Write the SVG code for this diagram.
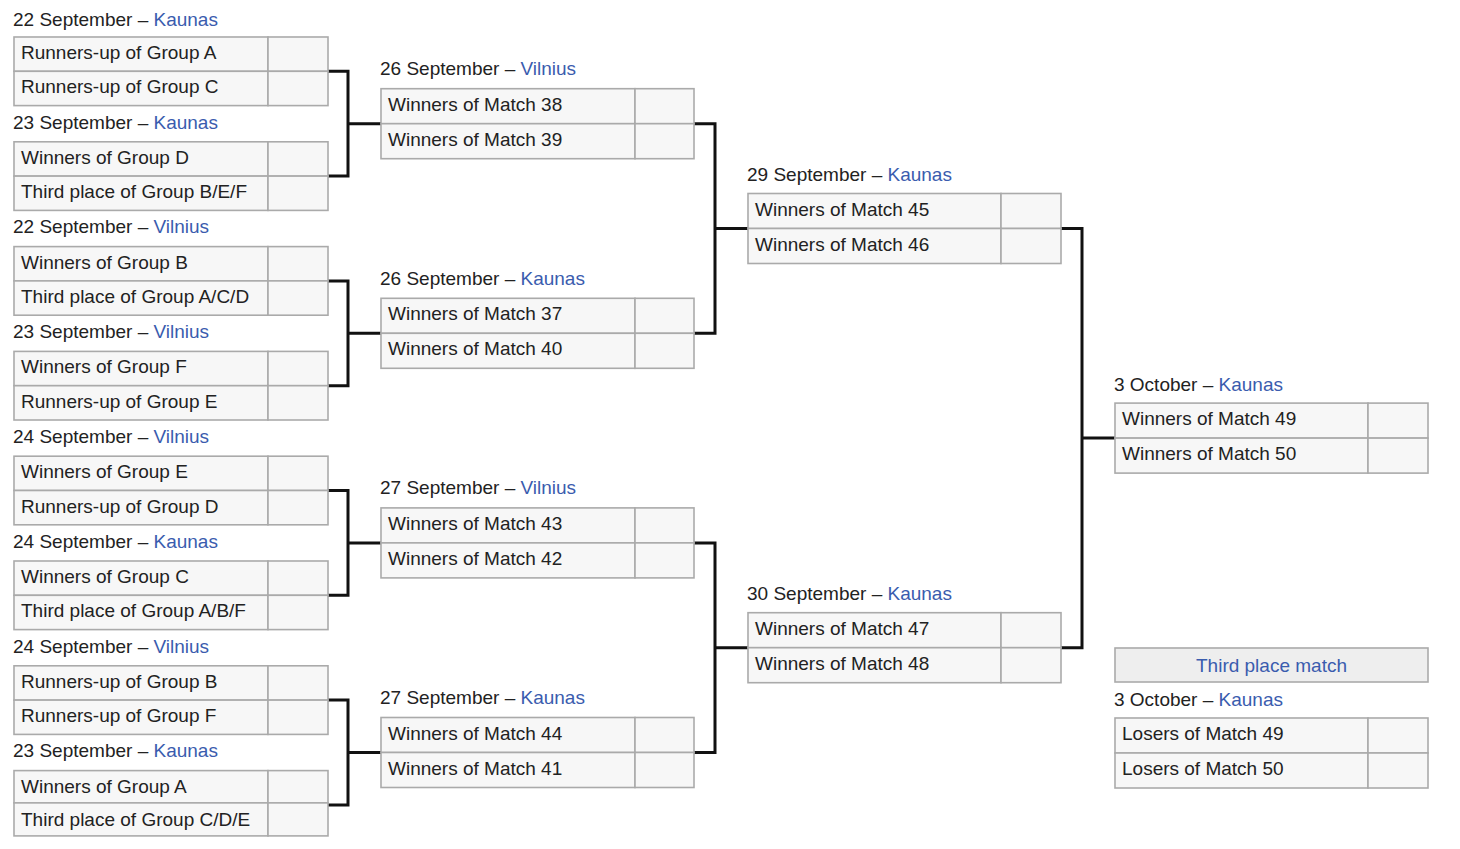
<svg xmlns="http://www.w3.org/2000/svg" width="1460" height="849" viewBox="0 0 1460 849">
<style>
.c{fill:#f7f7f7;stroke:#aaaaaa;stroke-width:1.6}
.h{fill:#eeeeee;stroke:#aaaaaa;stroke-width:1.6}
.t{font-family:"Liberation Sans",Arial,sans-serif;font-size:19px;fill:#222222}
.l{fill:#3a5cae}
.con{fill:none;stroke:#111111;stroke-width:3}
</style>
<rect width="1460" height="849" fill="#ffffff"/>
<g id="connectors">
<path class="con" d="M328 71.3H348V176.1H328M348 123.7H381"/>
<path class="con" d="M328 280.9H348V385.7H328M348 333.3H381"/>
<path class="con" d="M328 490.5H348V595.3H328M348 542.9H381"/>
<path class="con" d="M328 700.1H348V804.9H328M348 752.5H381"/>
<path class="con" d="M694 123.7H715V333.3H694M715 228.5H748"/>
<path class="con" d="M694 542.9H715V752.5H694M715 647.7H748"/>
<path class="con" d="M1061 228.5H1082V647.7H1061M1082 438.1H1115"/>
</g>
<g id="m1">
<text class="t" x="13" y="26">22 September – <tspan class="l">Kaunas</tspan></text>
<rect class="c" x="14" y="37" width="254" height="34.3"/><rect class="c" x="268" y="37" width="60" height="34.3"/>
<rect class="c" x="14" y="71.3" width="254" height="34.3"/><rect class="c" x="268" y="71.3" width="60" height="34.3"/>
<text class="t" x="21" y="59">Runners-up of Group A</text>
<text class="t" x="21" y="93.3">Runners-up of Group C</text>
</g>
<g id="m2">
<text class="t" x="13" y="128.5">23 September – <tspan class="l">Kaunas</tspan></text>
<rect class="c" x="14" y="141.8" width="254" height="34.3"/><rect class="c" x="268" y="141.8" width="60" height="34.3"/>
<rect class="c" x="14" y="176.1" width="254" height="34.3"/><rect class="c" x="268" y="176.1" width="60" height="34.3"/>
<text class="t" x="21" y="163.8">Winners of Group D</text>
<text class="t" x="21" y="198.1">Third place of Group B/E/F</text>
</g>
<g id="m3">
<text class="t" x="13" y="233.3">22 September – <tspan class="l">Vilnius</tspan></text>
<rect class="c" x="14" y="246.6" width="254" height="34.3"/><rect class="c" x="268" y="246.6" width="60" height="34.3"/>
<rect class="c" x="14" y="280.9" width="254" height="34.3"/><rect class="c" x="268" y="280.9" width="60" height="34.3"/>
<text class="t" x="21" y="268.6">Winners of Group B</text>
<text class="t" x="21" y="302.9">Third place of Group A/C/D</text>
</g>
<g id="m4">
<text class="t" x="13" y="338.1">23 September – <tspan class="l">Vilnius</tspan></text>
<rect class="c" x="14" y="351.4" width="254" height="34.3"/><rect class="c" x="268" y="351.4" width="60" height="34.3"/>
<rect class="c" x="14" y="385.7" width="254" height="34.3"/><rect class="c" x="268" y="385.7" width="60" height="34.3"/>
<text class="t" x="21" y="373.4">Winners of Group F</text>
<text class="t" x="21" y="407.7">Runners-up of Group E</text>
</g>
<g id="m5">
<text class="t" x="13" y="442.9">24 September – <tspan class="l">Vilnius</tspan></text>
<rect class="c" x="14" y="456.2" width="254" height="34.3"/><rect class="c" x="268" y="456.2" width="60" height="34.3"/>
<rect class="c" x="14" y="490.5" width="254" height="34.3"/><rect class="c" x="268" y="490.5" width="60" height="34.3"/>
<text class="t" x="21" y="478.2">Winners of Group E</text>
<text class="t" x="21" y="512.5">Runners-up of Group D</text>
</g>
<g id="m6">
<text class="t" x="13" y="547.7">24 September – <tspan class="l">Kaunas</tspan></text>
<rect class="c" x="14" y="561" width="254" height="34.3"/><rect class="c" x="268" y="561" width="60" height="34.3"/>
<rect class="c" x="14" y="595.3" width="254" height="34.3"/><rect class="c" x="268" y="595.3" width="60" height="34.3"/>
<text class="t" x="21" y="583">Winners of Group C</text>
<text class="t" x="21" y="617.3">Third place of Group A/B/F</text>
</g>
<g id="m7">
<text class="t" x="13" y="652.5">24 September – <tspan class="l">Vilnius</tspan></text>
<rect class="c" x="14" y="665.8" width="254" height="34.3"/><rect class="c" x="268" y="665.8" width="60" height="34.3"/>
<rect class="c" x="14" y="700.1" width="254" height="34.3"/><rect class="c" x="268" y="700.1" width="60" height="34.3"/>
<text class="t" x="21" y="687.8">Runners-up of Group B</text>
<text class="t" x="21" y="722.1">Runners-up of Group F</text>
</g>
<g id="m8">
<text class="t" x="13" y="757.3">23 September – <tspan class="l">Kaunas</tspan></text>
<rect class="c" x="14" y="770.6" width="254" height="32.3"/><rect class="c" x="268" y="770.6" width="60" height="32.3"/>
<rect class="c" x="14" y="802.9" width="254" height="33"/><rect class="c" x="268" y="802.9" width="60" height="33"/>
<text class="t" x="21" y="792.6">Winners of Group A</text>
<text class="t" x="21" y="825.9">Third place of Group C/D/E</text>
</g>
<g id="qf1">
<text class="t" x="380" y="75">26 September – <tspan class="l">Vilnius</tspan></text>
<rect class="c" x="381" y="88.7" width="254" height="35"/><rect class="c" x="635" y="88.7" width="59" height="35"/>
<rect class="c" x="381" y="123.7" width="254" height="35"/><rect class="c" x="635" y="123.7" width="59" height="35"/>
<text class="t" x="388" y="110.7">Winners of Match 38</text>
<text class="t" x="388" y="145.7">Winners of Match 39</text>
</g>
<g id="qf2">
<text class="t" x="380" y="284.6">26 September – <tspan class="l">Kaunas</tspan></text>
<rect class="c" x="381" y="298.3" width="254" height="35"/><rect class="c" x="635" y="298.3" width="59" height="35"/>
<rect class="c" x="381" y="333.3" width="254" height="35"/><rect class="c" x="635" y="333.3" width="59" height="35"/>
<text class="t" x="388" y="320.3">Winners of Match 37</text>
<text class="t" x="388" y="355.3">Winners of Match 40</text>
</g>
<g id="qf3">
<text class="t" x="380" y="494.2">27 September – <tspan class="l">Vilnius</tspan></text>
<rect class="c" x="381" y="507.9" width="254" height="35"/><rect class="c" x="635" y="507.9" width="59" height="35"/>
<rect class="c" x="381" y="542.9" width="254" height="35"/><rect class="c" x="635" y="542.9" width="59" height="35"/>
<text class="t" x="388" y="529.9">Winners of Match 43</text>
<text class="t" x="388" y="564.9">Winners of Match 42</text>
</g>
<g id="qf4">
<text class="t" x="380" y="703.8">27 September – <tspan class="l">Kaunas</tspan></text>
<rect class="c" x="381" y="717.5" width="254" height="35"/><rect class="c" x="635" y="717.5" width="59" height="35"/>
<rect class="c" x="381" y="752.5" width="254" height="35"/><rect class="c" x="635" y="752.5" width="59" height="35"/>
<text class="t" x="388" y="739.5">Winners of Match 44</text>
<text class="t" x="388" y="774.5">Winners of Match 41</text>
</g>
<g id="sf1">
<text class="t" x="747" y="180.5">29 September – <tspan class="l">Kaunas</tspan></text>
<rect class="c" x="748" y="193.5" width="253" height="35"/><rect class="c" x="1001" y="193.5" width="60" height="35"/>
<rect class="c" x="748" y="228.5" width="253" height="35"/><rect class="c" x="1001" y="228.5" width="60" height="35"/>
<text class="t" x="755" y="215.5">Winners of Match 45</text>
<text class="t" x="755" y="250.5">Winners of Match 46</text>
</g>
<g id="sf2">
<text class="t" x="747" y="599.7">30 September – <tspan class="l">Kaunas</tspan></text>
<rect class="c" x="748" y="612.7" width="253" height="35"/><rect class="c" x="1001" y="612.7" width="60" height="35"/>
<rect class="c" x="748" y="647.7" width="253" height="35"/><rect class="c" x="1001" y="647.7" width="60" height="35"/>
<text class="t" x="755" y="634.7">Winners of Match 47</text>
<text class="t" x="755" y="669.7">Winners of Match 48</text>
</g>
<g id="final">
<text class="t" x="1114" y="390.5">3 October – <tspan class="l">Kaunas</tspan></text>
<rect class="c" x="1115" y="403.1" width="253" height="35"/><rect class="c" x="1368" y="403.1" width="60" height="35"/>
<rect class="c" x="1115" y="438.1" width="253" height="35"/><rect class="c" x="1368" y="438.1" width="60" height="35"/>
<text class="t" x="1122" y="425.1">Winners of Match 49</text>
<text class="t" x="1122" y="460.1">Winners of Match 50</text>
</g>
<g id="third">
<rect class="h" x="1115" y="648" width="313" height="34"/>
<text class="t l" x="1271.5" y="671.5" text-anchor="middle">Third place match</text>
<text class="t" x="1114" y="705.5">3 October – <tspan class="l">Kaunas</tspan></text>
<rect class="c" x="1115" y="718" width="253" height="35"/><rect class="c" x="1368" y="718" width="60" height="35"/>
<rect class="c" x="1115" y="753" width="253" height="35"/><rect class="c" x="1368" y="753" width="60" height="35"/>
<text class="t" x="1122" y="740">Losers of Match 49</text>
<text class="t" x="1122" y="775">Losers of Match 50</text>
</g>
</svg>
